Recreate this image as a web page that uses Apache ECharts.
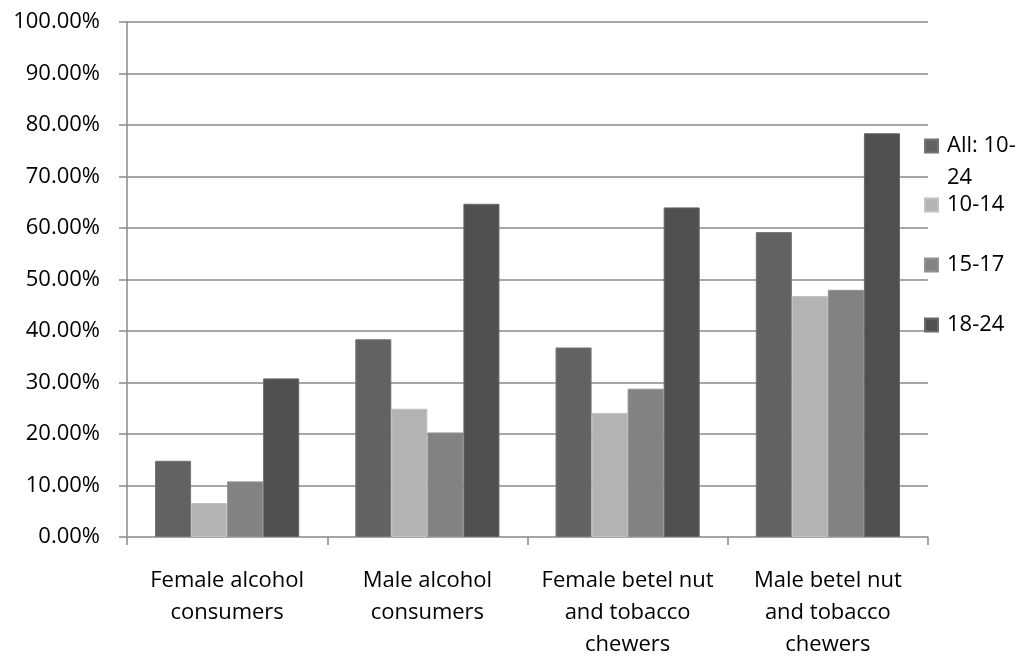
<!DOCTYPE html>
<html>
<head>
<meta charset="utf-8">
<script src="https://cdn.jsdelivr.net/npm/echarts@6/dist/echarts.min.js"></script>
<style>
  html, body { margin: 0; padding: 0; background: #fff; }
  #chart { width: 1022px; height: 657px; }
</style>
</head>
<body>
<div id="chart"></div>
<script>
// Consumption shares by group (percent of respondents)
const categories = [
  'Female alcohol\nconsumers',
  'Male alcohol\nconsumers',
  'Female betel nut\nand tobacco\nchewers',
  'Male betel nut\nand tobacco\nchewers'
];
const seriesNames = ['All: 10-24', '10-14', '15-17', '18-24'];
const all1024 = [14.8, 38.4, 36.8, 59.2];
const age1014 = [6.6, 24.9, 24.1, 46.8];
const age1517 = [10.8, 20.3, 28.8, 48.0];
const age1824 = [30.8, 64.7, 64.0, 78.4];
const yTicks = [0, 10, 20, 30, 40, 50, 60, 70, 80, 90, 100];

const fills = ['#626262', '#b3b3b3', '#828282', '#505050'];
const edges = ['#747474', '#c2c2c2', '#929292', '#686868'];
const values = [all1024, age1014, age1517, age1824];
const FONT = '"Open Sans", "Noto Sans", sans-serif';

const chart = echarts.init(document.getElementById('chart'), null, { renderer: 'canvas' });

// one legend block per series so each swatch sits beside its first text line;
// the wrapped name gets an empty leading line so its first line is centred on the swatch
const legendTops = [98, 189, 249, 309];
const legends = seriesNames.map((name, i) => ({
  data: [name],
  orient: 'vertical',
  left: 924,
  top: legendTops[i],
  padding: 0,
  icon: 'rect',
  itemWidth: 13,
  itemHeight: 13,
  selectedMode: false,
  formatter: n => (n === 'All: 10-24' ? '\nAll: 10-\n24' : n),
  textStyle: {
    fontFamily: FONT,
    fontSize: 22,
    color: '#000',
    lineHeight: 32,
    padding: [0, 0, 0, 4]
  }
}));

chart.setOption({
  animation: false,
  backgroundColor: '#fff',
  legend: legends,
  grid: {
    left: 127, right: 94, top: 22, bottom: 120,
    containLabel: false,
    outerBoundsMode: 'none'
  },
  xAxis: {
    type: 'category',
    data: categories,
    axisLine: { lineStyle: { color: '#a6a6a6', width: 1.5 } },
    axisTick: { show: true, length: 8, lineStyle: { color: '#8a8a8a', width: 1.5 } },
    axisLabel: {
      interval: 0,
      margin: 28,
      fontFamily: FONT,
      fontSize: 22,
      color: '#000',
      lineHeight: 32,
      align: 'center'
    },
    splitLine: { show: false }
  },
  yAxis: {
    type: 'value',
    min: yTicks[0],
    max: yTicks[yTicks.length - 1],
    interval: yTicks[1] - yTicks[0],
    axisLine: { show: true, lineStyle: { color: '#8a8a8a', width: 1.5 } },
    axisTick: { show: true, length: 8, lineStyle: { color: '#8a8a8a', width: 1.5 } },
    axisLabel: {
      margin: 27,
      fontFamily: FONT,
      fontSize: 22,
      color: '#000',
      formatter: v => v.toFixed(2) + '%'
    },
    splitLine: { show: true, lineStyle: { color: '#8a8a8a', width: 1.5 } }
  },
  series: seriesNames.map((name, i) => ({
    name: name,
    type: 'bar',
    data: values[i],
    barGap: '0%',
    barCategoryGap: '28%',
    itemStyle: { color: fills[i], borderColor: edges[i], borderWidth: 1 }
  }))
});
</script>
</body>
</html>
